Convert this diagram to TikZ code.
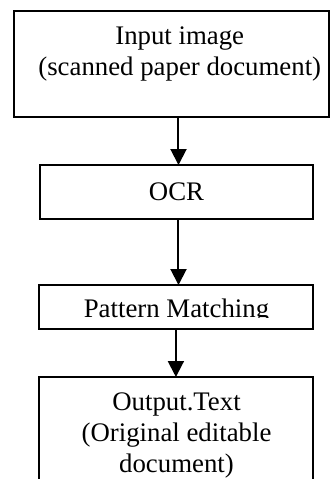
\documentclass[tikz,border=0pt]{standalone}
\usepackage{fontspec}
\setmainfont{Liberation Serif}
\usepackage{trimclip}
\usepackage{tikz}
\usetikzlibrary{arrows.meta,positioning}

\begin{document}
\begin{tikzpicture}[
    stage/.style={rectangle, draw, line width=1pt, inner sep=0pt, outer sep=0pt, align=center, font=\fontsize{13.4}{15.4}\selectfont},
    flow/.style={-{Triangle[width=8pt,length=8pt]}, line width=1pt},
    node distance=24pt]

  \useasboundingbox (0,0) rectangle (165.5pt,-239.5pt);

  % text height is taken to the last line of a stage
  \node[stage, minimum width=157.5pt, text height=32.25pt, text depth=20.75pt] (input) at (86pt,-31.75pt)
    {\hspace*{7.75pt}Input image\\\hspace*{7.75pt}(scanned paper document)};
  \node[stage, minimum width=136.75pt, text height=17.5pt, text depth=9.5pt, below=24.25pt of input, xshift=2.25pt] (ocr) {OCR};
  \node[stage, minimum width=137pt, text height=16pt, text depth=6pt, below=33pt of ocr] (match)
    {\clipbox{0pt 2.4pt 0pt 0pt}{Pattern Matching}};
  \node[stage, minimum width=137pt, text height=47.5pt, text depth=14pt, below=of match] (output)
    {Output.Text\\(Original editable\\document)};

  \draw[flow] ([xshift=3.25pt]input.south) -- ([xshift=1pt]ocr.north);
  \draw[flow] ([xshift=1pt]ocr.south) -- ([xshift=1pt]match.north);
  \draw[flow] ([xshift=-0.3pt]match.south) -- ([xshift=-0.3pt]output.north);
\end{tikzpicture}
\end{document}
